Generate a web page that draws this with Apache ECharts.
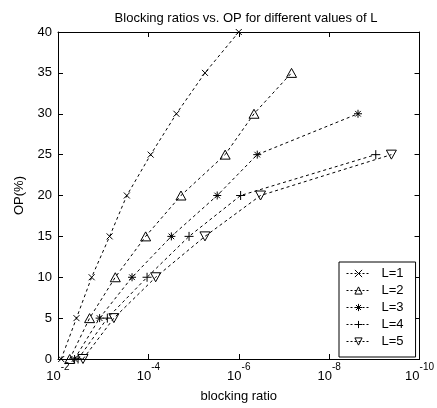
<!DOCTYPE html>
<html><head><meta charset="utf-8">
<script src="https://cdn.jsdelivr.net/npm/echarts@6/dist/echarts.min.js"></script>
<style>html,body{margin:0;padding:0;background:#fff}#c{width:437px;height:408px}</style>
</head><body><div id="c"></div>
<script>
var seriesNames = ['L=1', 'L=2', 'L=3', 'L=4', 'L=5'];
var op1 = [0, 5, 10, 15, 20, 25, 30, 35, 40];
var ratio1 = [8.5e-3, 3.9e-3, 1.8e-3, 7.2e-4, 3.0e-4, 8.9e-5, 2.4e-5, 5.6e-6, 1.0e-6];
var op2 = [0, 5, 10, 15, 20, 25, 30, 35];
var ratio2 = [5.5e-3, 2.0e-3, 5.4e-4, 1.15e-4, 1.9e-5, 2.0e-6, 4.6e-7, 6.8e-8];
var op3 = [0, 5, 10, 15, 20, 25, 30];
var ratio3 = [4.3e-3, 1.2e-3, 2.3e-4, 3.1e-5, 3.0e-6, 3.9e-7, 2.3e-9];
var op4 = [0, 5, 10, 15, 20, 25];
var ratio4 = [3.6e-3, 8.1e-4, 1.07e-4, 1.26e-5, 9.1e-7, 9.3e-10];
var op5 = [0, 5, 10, 15, 20, 25];
var ratio5 = [2.8e-3, 5.8e-4, 6.9e-5, 5.6e-6, 3.3e-7, 4.2e-10];
var yTicks = [0, 5, 10, 15, 20, 25, 30, 35, 40];
var xTickExponents = [-2, -4, -6, -8, -10];

var symbols = [
  'path://M0,0L10,10M10,0L0,10',
  'path://M5,0L10,9L0,9Z',
  'path://M5,0L5,10M0,5L10,5M1.5,1.5L8.5,8.5M8.5,1.5L1.5,8.5',
  'path://M5,0L5,10M0,5L10,5',
  'path://M0,0L10,0L5,9Z'
];
var sizes = [6, 10, 8, 9, 10];
var ops = [op1, op2, op3, op4, op5];
var ratios = [ratio1, ratio2, ratio3, ratio4, ratio5];

var FONT = 'Liberation Sans, Arial, sans-serif';
var FS = 13;
var chart = echarts.init(document.getElementById('c'), null, {renderer: 'canvas'});

function xFmt(v) {
  var e = Math.round(Math.log10(v));
  return '{b|10}{s|' + e + '}';
}
var xRich = {
  b: {fontSize: FS, fontFamily: FONT, color: '#000', verticalAlign: 'bottom', padding: [8, 0, 0, 0]},
  s: {fontSize: 10, fontFamily: FONT, color: '#000', verticalAlign: 'top', padding: [0, 0, 6, 0]}
};

var series = seriesNames.map(function (name, i) {
  return {
    name: name,
    type: 'line',
    xAxisIndex: 0, yAxisIndex: 0,
    data: ratios[i].map(function (r, j) { return [r, ops[i][j]]; }),
    symbol: symbols[i],
    symbolSize: sizes[i],
    symbolKeepAspect: true,
    showAllSymbol: true,
    lineStyle: {color: '#000', width: 1, type: [3, 3]},
    itemStyle: {color: 'rgba(0,0,0,0)', borderColor: '#000', borderWidth: 1},
    emphasis: {disabled: true},
    z: 3
  };
});

var commonX = {
  type: 'log', logBase: 10, inverse: true, min: 1e-10, max: 1e-2, interval: 2,
  axisLine: {show: true, onZero: false, lineStyle: {color: '#000', width: 1}},
  axisTick: {show: true, inside: true, length: 5, lineStyle: {color: '#000'}},
  minorTick: {show: false}, splitLine: {show: false}
};
var commonY = {
  type: 'value', min: 0, max: 40, interval: 5,
  axisLine: {show: true, onZero: false, lineStyle: {color: '#000', width: 1}},
  axisTick: {show: true, inside: true, length: 5, lineStyle: {color: '#000'}},
  splitLine: {show: false}
};

chart.setOption({
  animation: false,
  backgroundColor: '#fff',
  title: {
    text: 'Blocking ratios vs. OP for different values of L',
    left: 241, top: 7, textAlign: 'center',
    textStyle: {fontSize: FS, fontWeight: 'normal', fontFamily: FONT, color: '#000'}
  },
  grid: {left: 58, right: 12, top: 32, bottom: 47, containLabel: false},
  legend: {
    data: seriesNames,
    orient: 'vertical',
    left: 339, top: 262,
    padding: [5, 12, 9, 7],
    itemGap: 4,
    itemWidth: 24, itemHeight: 9,
    backgroundColor: '#fff',
    borderColor: '#000', borderWidth: 1,
    lineStyle: {width: 1, color: '#000', type: [2, 2]},
    itemStyle: {borderWidth: 1, borderColor: '#000', color: 'rgba(0,0,0,0)'},
    textStyle: {fontSize: FS, fontFamily: FONT, color: '#000', padding: [0, 0, 0, 6]},
    selectedMode: false
  },
  xAxis: [
    Object.assign({}, commonX, {
      position: 'bottom',
      name: 'blocking ratio', nameLocation: 'middle', nameGap: 31,
      nameTextStyle: {fontSize: FS, fontFamily: FONT, color: '#000'},
      axisLabel: {show: true, formatter: xFmt, rich: xRich, margin: 3, color: '#000',
        showMinLabel: true, showMaxLabel: true}
    }),
    Object.assign({}, commonX, {position: 'top', axisLabel: {show: false}})
  ],
  yAxis: [
    Object.assign({}, commonY, {
      position: 'left',
      name: 'OP(%)', nameLocation: 'middle', nameGap: 32, nameRotate: 90,
      nameTextStyle: {fontSize: FS, fontFamily: FONT, color: '#000'},
      axisLabel: {fontSize: FS, fontFamily: FONT, color: '#000', margin: 6,
        formatter: function (v) { return yTicks.indexOf(v) >= 0 ? String(v) : ''; }}
    }),
    Object.assign({}, commonY, {position: 'right', axisLabel: {show: false}})
  ],
  series: series
});
</script></body></html>
